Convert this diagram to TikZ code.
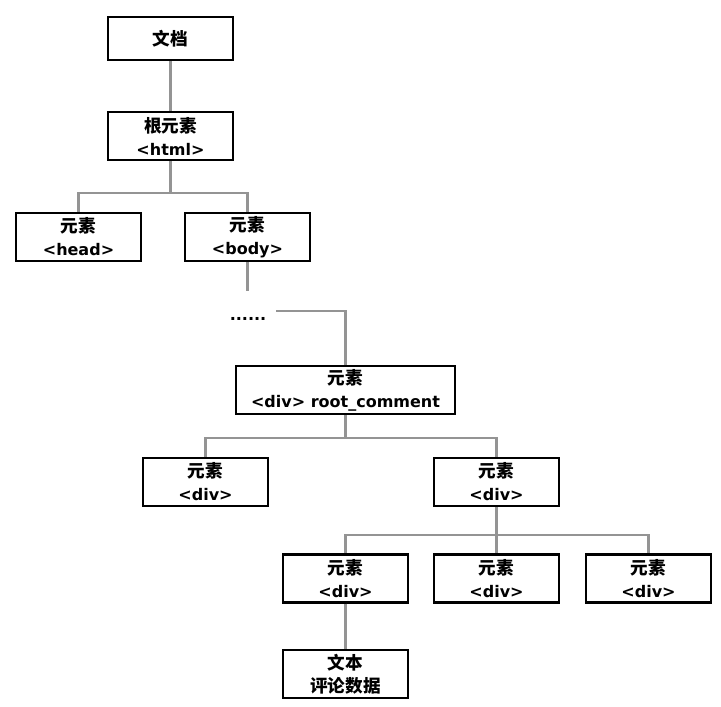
\documentclass[tikz,border=0pt]{standalone}
\usepackage{fontspec}
\setmainfont{DejaVu Sans}
\newfontfamily\cjk[Scale=1.1]{Noto Sans CJK SC}
\begin{document}
\begin{tikzpicture}[x=1pt,y=-1pt,
  box/.style={draw=black,line width=2.4pt,minimum width=125pt,minimum height=48pt,inner sep=0pt,align=center,font=\fontsize{16}{23}\selectfont\bfseries},
  conn/.style={draw=black!42,line width=2.2pt}]
\useasboundingbox (0,0) rectangle (721,707);
\node[box,minimum height=43pt] (doc) at (170.5,38.5) {{\cjk 文档}};
\node[box] (html) at (170.5,136) {{\cjk 根元素}\\<html>};
\node[box] (head) at (78.5,237) {{\cjk 元素}\\<head>};
\node[box] (body) at (247.5,237) {{\cjk 元素}\\<body>};
\node[font=\fontsize{16}{23}\selectfont\bfseries,inner sep=0pt,anchor=base] (dots) at (248,320) {......};
\node[box,minimum width=219pt] (root) at (345.5,390) {{\cjk 元素}\\<div> root\_comment};
\node[box] (divL) at (205.5,482) {{\cjk 元素}\\<div>};
\node[box] (divR) at (496.5,482) {{\cjk 元素}\\<div>};
\node[box] (d1) at (345.5,578.5) {{\cjk 元素}\\<div>};
\node[box] (d2) at (496.5,578.5) {{\cjk 元素}\\<div>};
\node[box] (d3) at (648.5,578.5) {{\cjk 元素}\\<div>};
\node[box] (txt) at (345.5,674) {{\cjk 文本}\\{\cjk 评论数据}};
\coordinate (j1) at (170.5,193);
\coordinate (bodyend) at (247.5,291);
\coordinate (dotsend) at (276,311);
\coordinate (j2) at (345.5,438);
\coordinate (j3) at (496.5,535);
\draw[conn] (doc.south) -- (html.north);
\draw[conn] (html.south) -- (j1) -| (head.north);
\draw[conn] (j1) -| (body.north);
\draw[conn] (body.south) -- (bodyend);
\draw[conn] (dotsend) -| (root.north);
\draw[conn] (root.south) -- (j2) -| (divL.north);
\draw[conn] (j2) -| (divR.north);
\draw[conn] (divR.south) -- (j3) -| (d1.north);
\draw[conn] (j3) -- (d2.north);
\draw[conn] (j3) -| (d3.north);
\draw[conn] (d1.south) -- (txt.north);
\end{tikzpicture}
\end{document}
